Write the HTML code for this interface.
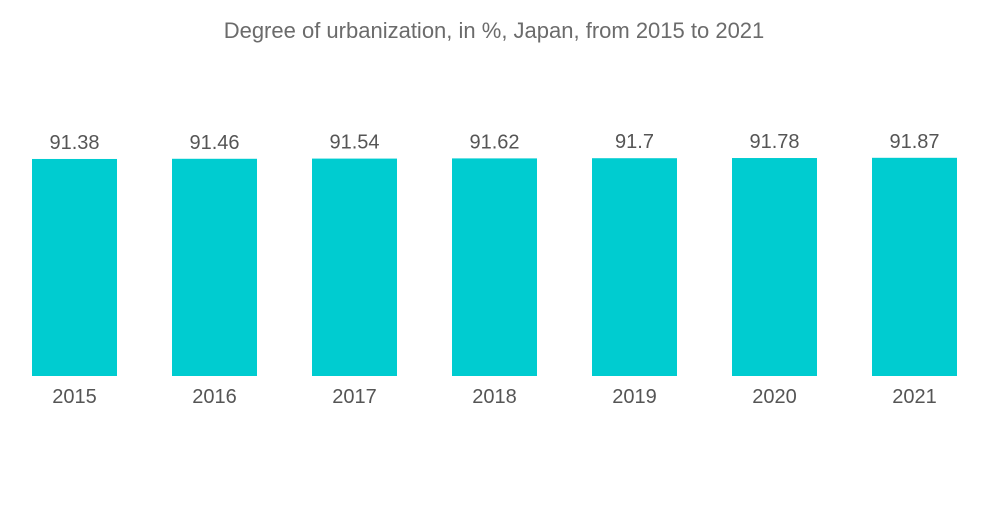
<!DOCTYPE html>
<html><head><meta charset="utf-8"><style>
body{margin:0;background:#fff;width:1000px;height:504px;overflow:hidden;font-family:"Liberation Sans",sans-serif}
</style></head><body>
<svg id="chart" width="1000" height="504">
<text x="494" y="38" text-anchor="middle" font-size="22" fill="#6b6b6b">Degree of urbanization, in %, Japan, from 2015 to 2021</text>
<g id="bars"></g>
</svg>
<script>
const categories=["2015","2016","2017","2018","2019","2020","2021"];
const values=[91.38,91.46,91.54,91.62,91.7,91.78,91.87];
const valueLabels=["91.38","91.46","91.54","91.62","91.7","91.78","91.87"];
const baseY=376, scale=2.375, x0=32, pitch=140, bw=85;
function xPos(i){return x0+i*pitch;}
function yPos(v){return baseY-v*scale;}
const g=document.getElementById('bars');
const ns="http://www.w3.org/2000/svg";
categories.forEach((c,i)=>{
  const r=document.createElementNS(ns,'rect');
  r.setAttribute('x',xPos(i));r.setAttribute('y',yPos(values[i]));
  r.setAttribute('width',bw);r.setAttribute('height',baseY-yPos(values[i]));
  r.setAttribute('fill','#00ccd0');
  
  
  g.appendChild(r);
  const t=document.createElementNS(ns,'text');
  t.setAttribute('x',xPos(i)+bw/2);t.setAttribute('y',yPos(values[i])-10);
  t.setAttribute('text-anchor','middle');t.setAttribute('font-size','20');t.setAttribute('fill','#555');
  t.textContent=valueLabels[i];
  
  
  g.appendChild(t);
  const a=document.createElementNS(ns,'text');
  a.setAttribute('x',xPos(i)+bw/2);a.setAttribute('y',403);
  a.setAttribute('text-anchor','middle');a.setAttribute('font-size','20');a.setAttribute('fill','#555');
  a.textContent=c;
  
  
  g.appendChild(a);
});
</script>
</body></html>
